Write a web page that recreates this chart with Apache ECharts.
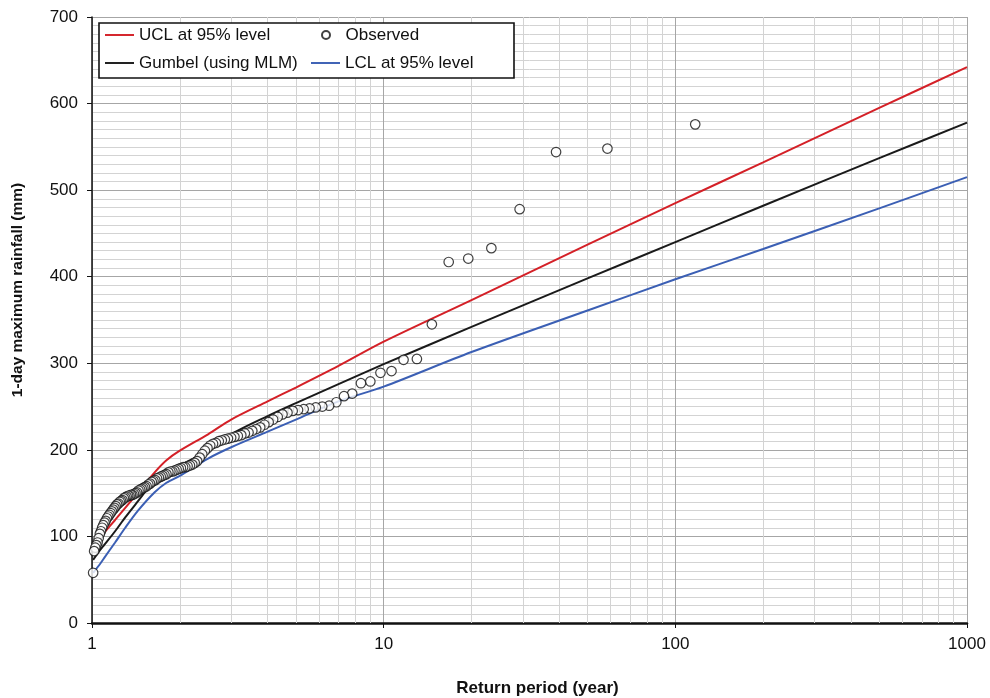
<!DOCTYPE html>
<html>
<head>
<meta charset="utf-8">
<title>Return period plot</title>
<script src="https://cdn.jsdelivr.net/npm/echarts@6/dist/echarts.min.js"></script>
<style>
    html, body { margin: 0; padding: 0; background: #fff; }
    #container { width: 990px; height: 698px; }
</style>
</head>
<body>
<div id="container"></div>
<script>
// observed annual maxima, plotted at Weibull return periods
var observedT = [117, 58.5, 39, 29.25, 23.4, 19.5, 16.71, 14.63, 13, 11.7,
    10.64, 9.75, 9, 8.357, 7.8, 7.313, 6.882, 6.5, 6.158, 5.85,
    5.571, 5.318, 5.087, 4.875, 4.68, 4.5, 4.333, 4.179, 4.034, 3.9,
    3.774, 3.656, 3.545, 3.441, 3.343, 3.25, 3.162, 3.079, 3, 2.925,
    2.854, 2.786, 2.721, 2.659, 2.6, 2.543, 2.489, 2.438, 2.388, 2.34,
    2.294, 2.25, 2.208, 2.167, 2.127, 2.089, 2.053, 2.017, 1.983, 1.95,
    1.918, 1.887, 1.857, 1.828, 1.8, 1.773, 1.746, 1.721, 1.696, 1.671,
    1.648, 1.625, 1.603, 1.581, 1.56, 1.539, 1.519, 1.5, 1.481, 1.463,
    1.444, 1.427, 1.41, 1.393, 1.376, 1.36, 1.345, 1.33, 1.315, 1.3,
    1.286, 1.272, 1.258, 1.245, 1.232, 1.219, 1.206, 1.194, 1.182, 1.17,
    1.158, 1.147, 1.136, 1.125, 1.114, 1.104, 1.093, 1.083, 1.073, 1.064,
    1.054, 1.045, 1.035, 1.026, 1.017, 1.009];
var observedRain = [576, 548, 544, 478, 433, 421, 417, 345, 305, 304,
    291, 289, 279, 277, 265, 262, 255, 251, 250, 249,
    248, 247, 246, 245, 243, 241, 238, 235, 232, 229,
    226, 224, 222, 220, 219, 217, 216, 215, 214, 213,
    212, 211, 210, 208, 207, 205, 202, 199, 195, 191,
    187, 185, 183, 182, 181, 180, 180, 179, 178, 177,
    176, 175, 175, 174, 172, 171, 170, 169, 168, 167,
    165, 164, 163, 161, 160, 158, 157, 156, 155, 154,
    153, 151, 150, 149, 148, 148, 147, 147, 146, 145,
    144, 142, 141, 140, 138, 137, 135, 133, 131, 129,
    127, 125, 123, 121, 118, 116, 113, 110, 106, 103,
    98, 93, 90, 87, 83, 58];

// fitted curve and confidence limits
var curveT = [1.009, 1.07, 1.1, 1.2, 1.3, 1.44, 1.64, 1.8, 2, 2.5, 3, 4, 5, 7, 10, 20, 50, 100, 200, 500, 1000];
var gumbel = [73, 85, 90, 106, 122, 141, 165, 175, 182, 199, 218, 239, 254, 276, 299, 342, 398, 440, 482, 537, 578];
var ucl = [null, 99, 104, 119, 133, 151, 174, 188, 199, 218, 235, 256, 272, 297, 325, 373, 437, 485, 532, 595, 642];
var lcl = [58, 69, 75, 93, 110, 130, 151, 162, 170, 190, 203, 221, 235, 256, 273, 313, 361, 397, 432, 479, 515];

var xTickLabels = ['1', '10', '100', '1000'];
var minorXGrid = [2, 3, 4, 5, 6, 7, 8, 9, 20, 30, 40, 50, 60, 70, 80, 90,
    200, 300, 400, 500, 600, 700, 800, 900];

var FONT = 'Liberation Sans, Arial, Helvetica, sans-serif';
var LINE_ICON = 'path://M0 0H30V2H0Z';

function pairs(xs, ys) {
    var out = [];
    for (let i = 0; i < xs.length; i++) {
        if (ys[i] !== null) out.push([xs[i], ys[i]]);
    }
    return out;
}

function legendBox(left, top, iconH, items) {
    return {
        z: 20,
        orient: 'vertical',
        left: left, top: top,
        padding: 0,
        itemGap: 10,
        itemWidth: 29, itemHeight: iconH,
        textStyle: { fontFamily: FONT, fontSize: 17, lineHeight: 18, color: '#111' },
        data: items
    };
}

function printChart() {
    var dom = document.getElementById('container');
    var myChart = echarts.init(dom, null, { renderer: 'canvas' });
    var lineBase = {
        type: 'line',
        symbol: 'none',
        smooth: 0.3,
        z: 3,
        emphasis: { disabled: true }
    };
    var option = {
        animation: false,
        backgroundColor: '#fff',
        textStyle: { fontFamily: FONT, color: '#111' },
        grid: { left: 92, right: 23, top: 17, bottom: 75, outerBoundsMode: 'none' },
        graphic: [{
            type: 'rect',
            z: 10,
            shape: { x: 99, y: 23, width: 415, height: 55 },
            style: { fill: '#fff', stroke: '#111', lineWidth: 1.6 }
        }],
        legend: [
            legendBox(105, 26, 12, [
                { name: 'UCL at 95% level', icon: LINE_ICON },
                { name: 'Gumbel (using MLM)', icon: LINE_ICON }
            ]),
            legendBox(321, 26, 8, [{ name: 'Observed', icon: 'circle' }]),
            legendBox(311, 54, 12, [{ name: 'LCL at 95% level', icon: LINE_ICON }])
        ],
        xAxis: {
            type: 'log',
            logBase: 10,
            min: 1,
            max: 1000,
            name: 'Return period (year)',
            nameLocation: 'middle',
            nameGap: 57,
            nameTextStyle: {
                fontFamily: FONT, fontSize: 17, fontWeight: 'bold', color: '#111',
                padding: [0, 0, 0, 16]
            },
            axisLine: { lineStyle: { color: '#111', width: 2.5 } },
            axisTick: { show: true, length: 5, lineStyle: { color: '#111' } },
            axisLabel: {
                margin: 13, fontSize: 17, color: '#111', fontFamily: FONT,
                formatter: function (v) {
                    var k = Math.round(Math.log10(v));
                    return xTickLabels[k] !== undefined ? xTickLabels[k] : '';
                }
            },
            splitLine: { show: true, lineStyle: { color: '#a6a6a6', width: 1 } }
        },
        yAxis: {
            type: 'value',
            min: 0,
            max: 700,
            interval: 100,
            name: '1-day maximum rainfall (mm)',
            nameLocation: 'middle',
            nameGap: 66,
            nameTextStyle: {
                fontFamily: FONT, fontSize: 15.5, fontWeight: 'bold', color: '#111',
                padding: [0, 0, 0, 60]
            },
            axisLine: { show: true, lineStyle: { color: '#111', width: 1.5 } },
            axisTick: { show: true, length: 5, lineStyle: { color: '#111' } },
            axisLabel: { margin: 14, fontSize: 17, color: '#111', fontFamily: FONT },
            splitLine: { show: true, lineStyle: { color: '#a6a6a6', width: 1 } },
            minorTick: { show: false, splitNumber: 10 },
            minorSplitLine: { show: true, lineStyle: { color: '#d3d3d3', width: 1 } }
        },
        series: [
            {
                name: 'minor grid',
                type: 'line',
                data: [],
                z: 1,
                silent: true,
                markLine: {
                    z: 1,
                    silent: true,
                    symbol: ['none', 'none'],
                    label: { show: false },
                    lineStyle: { type: 'solid', color: '#d3d3d3', width: 1 },
                    emphasis: { disabled: true },
                    data: minorXGrid.map(function (v) { return { xAxis: v }; })
                }
            },
            Object.assign({}, lineBase, {
                name: 'UCL at 95% level',
                color: '#d42027',
                lineStyle: { color: '#d42027', width: 2 },
                data: pairs(curveT, ucl)
            }),
            Object.assign({}, lineBase, {
                name: 'Gumbel (using MLM)',
                color: '#1a1a1a',
                lineStyle: { color: '#1a1a1a', width: 2 },
                data: pairs(curveT, gumbel)
            }),
            Object.assign({}, lineBase, {
                name: 'LCL at 95% level',
                color: '#3b5fb4',
                lineStyle: { color: '#3b5fb4', width: 2 },
                data: pairs(curveT, lcl)
            }),
            {
                name: 'Observed',
                type: 'scatter',
                symbol: 'circle',
                symbolSize: 9.5,
                z: 5,
                itemStyle: { color: '#fff', borderColor: '#111', borderWidth: 1.2 },
                emphasis: { disabled: true },
                data: pairs(observedT, observedRain)
            }
        ]
    };
    myChart.setOption(option, true);
}

printChart();
</script>
</body>
</html>
